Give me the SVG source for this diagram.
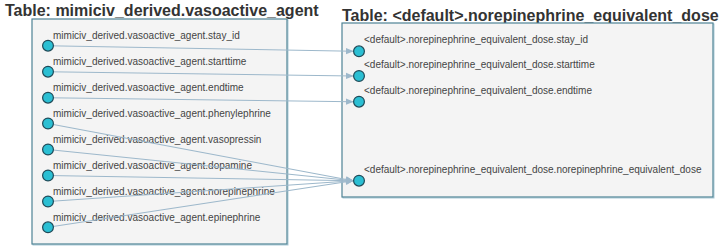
<svg xmlns="http://www.w3.org/2000/svg" width="720" height="246" viewBox="0 0 720 246">
  <style>
    .title { font-family: "Liberation Sans", Arial, sans-serif; font-size: 16px; font-weight: bold; fill: #333; }
    .box { fill: #f4f4f4; stroke: #4e8294; stroke-width: 1.2; }
    .boxshadow { fill: none; stroke: #a9cad8; stroke-width: 1; }
    .col { font-family: "Liberation Sans", Arial, sans-serif; font-size: 10px; fill: #444; }
    .port { fill: #2bbfd3; stroke: #1f4a58; stroke-width: 1.2; }
    .link { fill: none; stroke: #9db8cb; stroke-width: 1.1; }
  </style>
  <defs>
    <marker id="arrow" viewBox="0 0 10 10" refX="9" refY="5" markerWidth="8" markerHeight="8" markerUnits="userSpaceOnUse" orient="auto">
      <path d="M0,1 L10,5 L0,9 Z" fill="#9db8cb"/>
    </marker>
  </defs>

  <g id="vasoactive_agent">
    <text class="title" x="5" y="16">Table: mimiciv_derived.vasoactive_agent</text>
    <rect class="boxshadow" x="33" y="20" width="255" height="225"/>
    <rect class="box" x="32" y="19" width="255" height="225"/>
    <text class="col" x="53" y="39">mimiciv_derived.vasoactive_agent.stay_id</text>
    <text class="col" x="53" y="65">mimiciv_derived.vasoactive_agent.starttime</text>
    <text class="col" x="53" y="91">mimiciv_derived.vasoactive_agent.endtime</text>
    <text class="col" x="53" y="117">mimiciv_derived.vasoactive_agent.phenylephrine</text>
    <text class="col" x="53" y="143">mimiciv_derived.vasoactive_agent.vasopressin</text>
    <text class="col" x="53" y="169">mimiciv_derived.vasoactive_agent.dopamine</text>
    <text class="col" x="53" y="195">mimiciv_derived.vasoactive_agent.norepinephrine</text>
    <text class="col" x="53" y="221">mimiciv_derived.vasoactive_agent.epinephrine</text>
  </g>

  <g id="norepinephrine_equivalent_dose">
    <text class="title" x="342" y="21">Table: &lt;default&gt;.norepinephrine_equivalent_dose</text>
    <rect class="boxshadow" x="343" y="24" width="371" height="174"/>
    <rect class="box" x="342" y="23" width="371" height="174"/>
    <text class="col" x="364" y="43">&lt;default&gt;.norepinephrine_equivalent_dose.stay_id</text>
    <text class="col" x="364" y="68">&lt;default&gt;.norepinephrine_equivalent_dose.starttime</text>
    <text class="col" x="364" y="94">&lt;default&gt;.norepinephrine_equivalent_dose.endtime</text>
    <text class="col" x="364" y="173">&lt;default&gt;.norepinephrine_equivalent_dose.norepinephrine_equivalent_dose</text>
  </g>

  <g id="connectors">
    <line class="link" x1="48" y1="45.7" x2="353" y2="51.3" marker-end="url(#arrow)"/>
    <line class="link" x1="48" y1="71.7" x2="353" y2="76" marker-end="url(#arrow)"/>
    <line class="link" x1="48" y1="97.7" x2="353" y2="101.7" marker-end="url(#arrow)"/>
    <line class="link" x1="48" y1="123.5" x2="353" y2="180.7" marker-end="url(#arrow)"/>
    <line class="link" x1="48" y1="149.5" x2="353" y2="180.7" marker-end="url(#arrow)"/>
    <line class="link" x1="48" y1="175.5" x2="353" y2="180.7" marker-end="url(#arrow)"/>
    <line class="link" x1="48" y1="201.5" x2="353" y2="180.7" marker-end="url(#arrow)"/>
    <line class="link" x1="48" y1="227.3" x2="353" y2="180.7" marker-end="url(#arrow)"/>
  </g>

  <g id="ports">
    <circle class="port" cx="48" cy="45.7" r="5.4"/>
    <circle class="port" cx="48" cy="71.7" r="5.4"/>
    <circle class="port" cx="48" cy="97.7" r="5.4"/>
    <circle class="port" cx="48" cy="123.5" r="5.4"/>
    <circle class="port" cx="48" cy="149.5" r="5.4"/>
    <circle class="port" cx="48" cy="175.5" r="5.4"/>
    <circle class="port" cx="48" cy="201.5" r="5.4"/>
    <circle class="port" cx="48" cy="227.3" r="5.4"/>
    <circle class="port" cx="359" cy="51.3" r="5.4"/>
    <circle class="port" cx="359" cy="76" r="5.4"/>
    <circle class="port" cx="359" cy="101.7" r="5.4"/>
    <circle class="port" cx="359" cy="180.7" r="5.4"/>
  </g>
</svg>
